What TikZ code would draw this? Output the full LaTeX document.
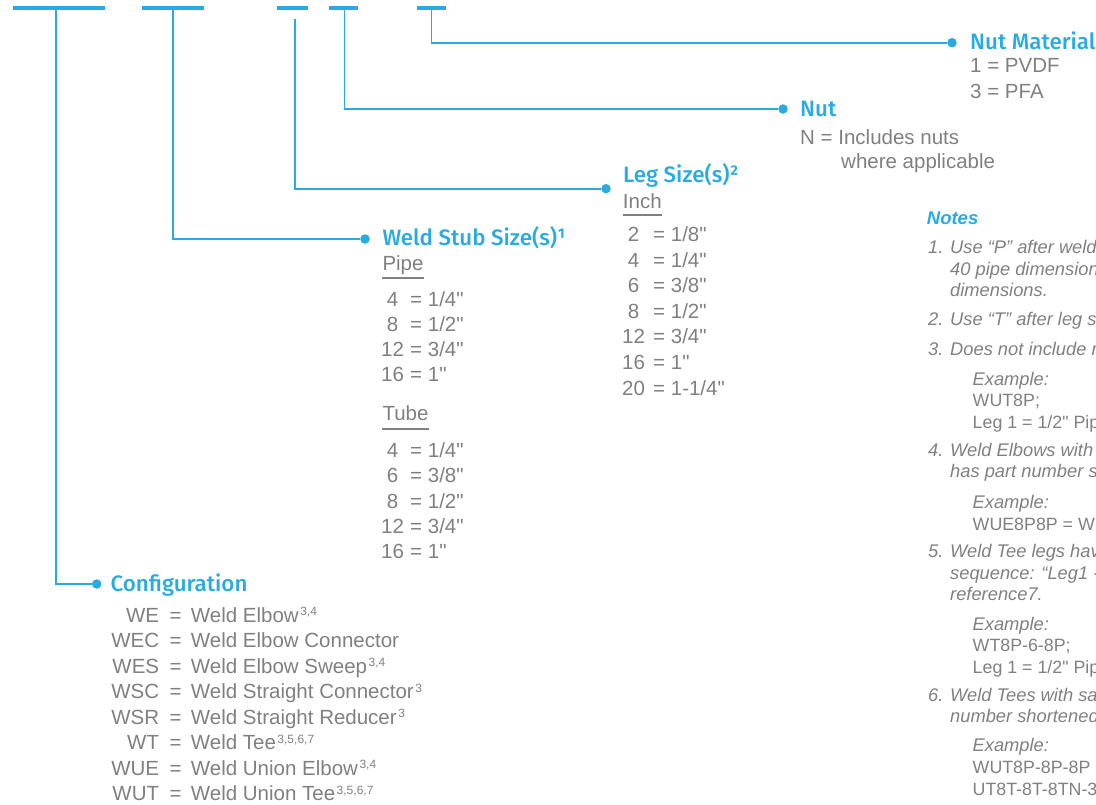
\documentclass[tikz,border=0pt]{standalone}
\usepackage{fontspec}
\setmainfont{Liberation Sans}
\newfontfamily\partfont{Liberation Sans}
\IfFontExistsTF{Fira Sans Medium}{\newfontfamily\headfont{Fira Sans Medium}}{\newfontfamily\headfont{Fira Sans}}
\definecolor{partblue}{RGB}{41,171,226}
\definecolor{partgray}{RGB}{128,128,128}
\usetikzlibrary{positioning}
\newcommand\fnmark[1]{\kern1.5pt\raisebox{6.5pt}{\fontsize{12}{12}\selectfont #1}}

\tikzset{
  segbar/.style={fill=partblue,inner sep=0pt,minimum height=4pt},
  link/.style={draw=partblue,line width=1.6pt},
  dot/.style={circle,fill=partblue,inner sep=0pt,minimum size=9.5pt},
  head/.style={anchor=base west,inner sep=0pt,text=partblue,font=\headfont\fontsize{22.3}{22.3}\selectfont},
  item/.style={anchor=base west,inner sep=0pt,text=partgray,font=\partfont\fontsize{20.5}{20.5}\selectfont},
  num/.style={item,anchor=base},
  rule/.style={draw=partgray,line width=2pt},
  note/.style={anchor=base west,inner sep=0pt,text=partgray,font=\partfont\itshape\fontsize{18.3}{18.3}\selectfont},
  code/.style={note,font=\partfont\fontsize{17.8}{17.8}\selectfont}
}

\begin{document}
\begin{tikzpicture}[x=1pt,y=-1pt]
  \useasboundingbox (0,0) rectangle (1096,804);
  \clip (0,0) rectangle (1096,804);
  % part number segments
  \node[segbar,minimum width=92.3] (bcfg) at (58.85,7.7) {};
  \node[segbar,minimum width=62] (bstub) at (173.2,7.7) {};
  \node[segbar,minimum width=30.7] (bleg) at (292.35,7.7) {};
  \node[segbar,minimum width=28.4] (bnut) at (343.5,7.7) {};
  \node[segbar,minimum width=28.7] (bmat) at (431.35,7.7) {};
  % dots
  \node[dot] (dcfg) at (96.7,584) {};
  \node[dot] (dstub) at (365,239) {};
  \node[dot] (dleg) at (606,188.7) {};
  \node[dot] (dnut) at (783,109) {};
  \node[dot] (dmat) at (952,42.7) {};
  % leaders
  \draw[link] ([xshift=-3.15pt]bcfg.south) |- (dcfg);
  \draw[link] (bstub.south) |- (dstub);
  \draw[link] ([xshift=2.35pt,yshift=-8.6pt]bleg.south) |- (dleg);
  \draw[link] ([xshift=0.8pt]bnut.south) |- (dnut);
  \draw[link] (bmat.south) |- (dmat);
  % headings
  \node[head] (mat) at (970,49.3) {Nut Material};
  \node[head] (nut) at (800,116) {Nut};
  \node[head] (leg) at (623,182.7) {Leg Size(s)²};
  \node[head] (stub) at (382.3,245) {Weld Stub Size(s)¹};
  \node[head] (cfg) at (110.5,591.7) {Configuration};
  % nut material
  \node[item] (mat1) at (970,72.7) {1 = PVDF};
  \node[item] (mat3) at (970,98.3) {3 = PFA};
  % nut
  \node[item] (nutn) at (800,144) {N = Includes nuts};
  \node[item] (nutw) at (841,168.3) {where applicable};
  % leg sizes
  \node[item] (inch) at (622.7,208.3) {Inch};
  \draw[rule] ([yshift=-7pt]inch.base west) -- ([yshift=-7pt]inch.base east);
  \foreach \n/\v [count=\i from 0] in {2/{1/8"},4/{1/4"},6/{3/8"},8/{1/2"},12/{3/4"},16/{1"},20/{1-1/4"}}{
    \node[num] (l\i) at (633.5,241.7+25.55*\i) {\n};
    \node[item] (lv\i) at (653,241.7+25.55*\i) {= \v};
  }
  % weld stub sizes
  \node[item] (pipe) at (382.3,270) {Pipe};
  \draw[rule] ([yshift=-8pt]pipe.base west) -- ([yshift=-8pt]pipe.base east);
  \foreach \n/\v [count=\i from 0] in {4/{1/4"},8/{1/2"},12/{3/4"},16/{1"}}{
    \node[num] (p\i) at (392.5,306.7+25*\i) {\n};
    \node[item] (pv\i) at (410,306.7+25*\i) {= \v};
  }
  \node[item] (tube) at (382.3,420.7) {Tube};
  \draw[rule] ([yshift=-8pt]tube.base west) -- ([yshift=-8pt]tube.base east);
  \foreach \n/\v [count=\i from 0] in {4/{1/4"},6/{3/8"},8/{1/2"},12/{3/4"},16/{1"}}{
    \node[num] (t\i) at (392.5,457.3+25.4*\i) {\n};
    \node[item] (tv\i) at (410,457.3+25.4*\i) {= \v};
  }
  % configuration
  \foreach \ab/\desc [count=\i from 0] in {WE/{Weld Elbow\fnmark{3,4}},WEC/{Weld Elbow Connector},
      WES/{Weld Elbow Sweep\fnmark{3,4}},WSC/{Weld Straight Connector\fnmark{3}},
      WSR/{Weld Straight Reducer\fnmark{3}},WT/{Weld Tee\fnmark{3,5,6,7}},
      WUE/{Weld Union Elbow\fnmark{3,4}},WUT/{Weld Union Tee\fnmark{3,5,6,7}}}{
    \node[item,anchor=base east] (c\i) at (159.3,622.3+25.5*\i) {\ab};
    \node[item] (ce\i) at (169.3,622.3+25.5*\i) {=};
    \node[item] (cd\i) at (190.7,622.3+25.5*\i) {\desc};
  }
  % notes
  \node[anchor=base west,inner sep=0pt,text=partblue,font=\partfont\bfseries\itshape\fontsize{18.5}{18.5}\selectfont] (notes) at (926.7,224.3) {Notes};
  \foreach \y/\k in {253.3/1.,325/2.,355/3.,456.7/4.,557.3/5.,701.7/6.}
    \node[note] (k\k) at (928,\y) {\k};
  \foreach \y/\t [count=\i] in {253.3/{Use “P” after weld stub size for schedule},275/{40 pipe dimensions, “T” for tube},
      296.7/{dimensions.},325/{Use “T” after leg size for tube dimensions.},355/{Does not include nuts.},
      456.7/{Weld Elbows with same leg sizes},477.7/{has part number shortened.},
      557.3/{Weld Tee legs have following},579/{sequence: “Leg1 - Leg2 - Leg3”,},600.7/{reference7.},
      701.7/{Weld Tees with same leg sizes have part},722.7/{number shortened.}}
    \node[note] (nl\i) at (950,\y) {\t};
  \foreach \y [count=\i] in {385,508.3,630,751.7}
    \node[note] (ex\i) at (972.5,\y) {Example:};
  \foreach \y/\t [count=\i] in {406.7/{WUT8P;},428.3/{Leg 1 = 1/2" Pipe, Leg 2 = 1/2" Pipe},530/{WUE8P8P = WUE8P},
      651.7/{WT8P-6-8P;},673.3/{Leg 1 = 1/2" Pipe, Leg 2 = 3/8"},773.3/{WUT8P-8P-8P = WUT8P},795/{UT8T-8T-8TN-3 = UT8TN-3}}
    \node[code] (co\i) at (972.5,\y) {\t};
\end{tikzpicture}
\end{document}
